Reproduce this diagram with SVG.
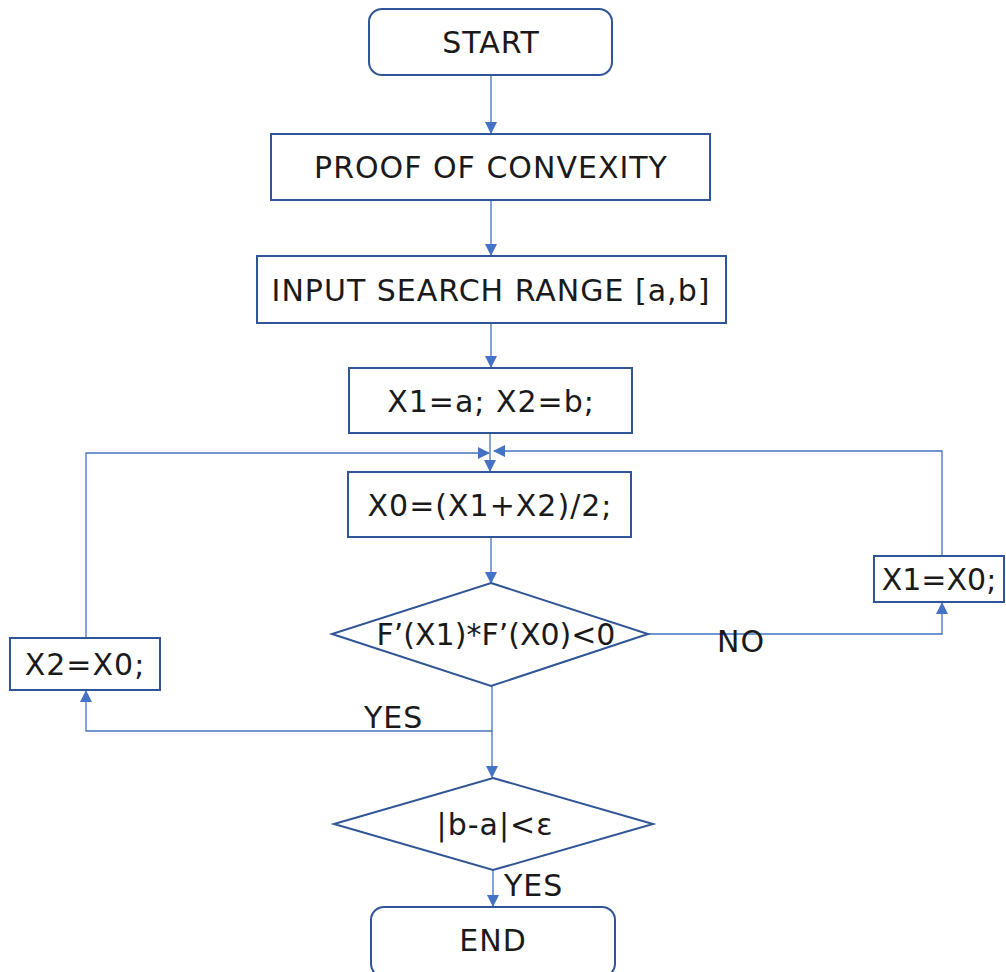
<svg xmlns="http://www.w3.org/2000/svg" width="1006" height="972" viewBox="0 0 1006 972">
<defs>
<marker id="ah" markerWidth="12" markerHeight="12" refX="11" refY="6" orient="auto" markerUnits="userSpaceOnUse">
<path d="M0,0 L12,6 L0,12 z" fill="#4472C4"/>
</marker>
<style>
.n{fill:#fff;stroke:#2F5597;stroke-width:2}
.c{fill:none;stroke:#4472C4;stroke-width:1.3}
.t{font-family:"DejaVu Sans","Noto Sans","Liberation Sans",sans-serif;font-size:30px;letter-spacing:1px;fill:#1a1a1a;text-anchor:middle;dominant-baseline:central}
.l{font-family:"DejaVu Sans","Noto Sans","Liberation Sans",sans-serif;font-size:30px;letter-spacing:1px;fill:#1a1a1a}
</style>
</defs>
<rect width="1006" height="972" fill="#fff"/>
<g id="connectors">
<path class="c" d="M491,75 V133" marker-end="url(#ah)"/>
<path class="c" d="M491,200 V255" marker-end="url(#ah)"/>
<path class="c" d="M491,323 V367" marker-end="url(#ah)"/>
<path class="c" d="M490,433 V471" marker-end="url(#ah)"/>
<path class="c" d="M86,638 V453 H489" marker-end="url(#ah)"/>
<path class="c" d="M942,556 V451 H494" marker-end="url(#ah)"/>
<path class="c" d="M491,537 V583" marker-end="url(#ah)"/>
<path class="c" d="M648,634 H942 V603" marker-end="url(#ah)"/>
<path class="c" d="M492,686 V731 H86 V691" marker-end="url(#ah)"/>
<path class="c" d="M492,731 V777" marker-end="url(#ah)"/>
<path class="c" d="M493,870 V906" marker-end="url(#ah)"/>
<text class="l" x="717" y="652">NO</text>
<text class="l" x="364" y="728">YES</text>
<text class="l" x="504" y="896">YES</text>
</g>
<g id="start"><rect class="n" x="369" y="9" width="243" height="66" rx="13"/><text class="t" x="491" y="42">START</text></g>
<g id="proof"><rect class="n" x="271" y="134" width="439" height="66"/><text class="t" x="491" y="167">PROOF OF CONVEXITY</text></g>
<g id="input"><rect class="n" x="257" y="256" width="469" height="67"/><text class="t" x="491" y="290">INPUT SEARCH RANGE [a,b]</text></g>
<g id="init"><rect class="n" x="349" y="368" width="283" height="65"/><text class="t" x="491" y="401">X1=a; X2=b;</text></g>
<g id="mid"><rect class="n" x="348" y="472" width="283" height="65"/><text class="t" x="490" y="505">X0=(X1+X2)/2;</text></g>
<g id="cond1"><polygon class="n" points="491,583 648,634 491,686 332,634"/><text class="t" x="496" y="634" style="letter-spacing:0">F’(X1)*F’(X0)&lt;0</text></g>
<g id="setx2"><rect class="n" x="10" y="638" width="150" height="52"/><text class="t" x="85" y="664">X2=X0;</text></g>
<g id="setx1"><rect class="n" x="874" y="556" width="130" height="46"/><text class="t" x="939" y="579" style="letter-spacing:0">X1=X0;</text></g>
<g id="cond2"><polygon class="n" points="493,778 653,824 493,870 334,824"/><text class="t" x="495" y="824">|b-a|&lt;ε</text></g>
<g id="end"><rect class="n" x="371" y="907" width="244" height="70" rx="13"/><text class="t" x="493" y="940">END</text></g>
</svg>
